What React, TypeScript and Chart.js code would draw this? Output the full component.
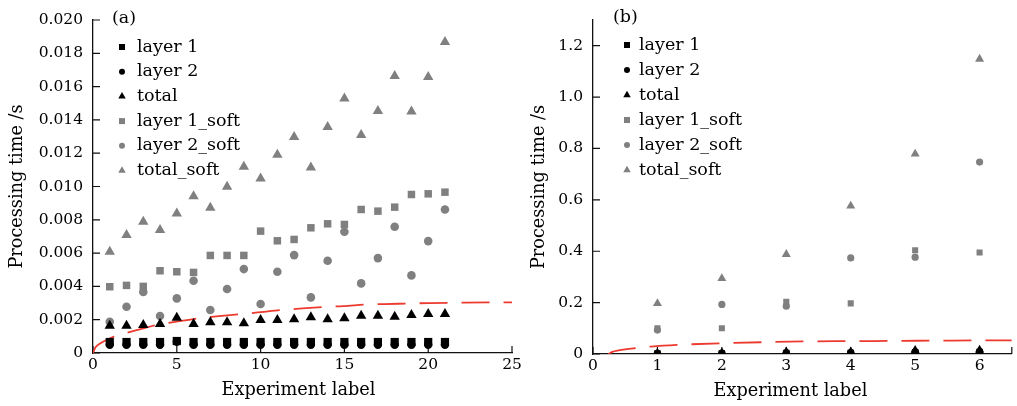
import React, { useEffect, useRef } from 'react';
import { Chart, registerables } from 'chart.js';

Chart.register(...registerables);

const FONT = "'DejaVu Serif', serif";
const BLACK = '#000000';
const GRAY = '#808080';
const RED = '#ec3a2f';

// ---------- Panel (a) ----------
const aExperiments = [1, 2, 3, 4, 5, 6, 7, 8, 9, 10, 11, 12, 13, 14, 15, 16, 17, 18, 19, 20, 21];
const aLayer1 = [0.00066, 0.00066, 0.00066, 0.00066, 0.00072, 0.00066, 0.00066, 0.00066, 0.00066, 0.00066, 0.00066, 0.00066, 0.00066, 0.00066, 0.00066, 0.00066, 0.00066, 0.00066, 0.00066, 0.00066, 0.00066];
const aLayer2 = [0.0005, 0.0005, 0.0005, 0.0005, 0.00068, 0.0005, 0.0005, 0.0005, 0.0005, 0.0005, 0.0005, 0.0005, 0.0005, 0.0005, 0.0005, 0.0005, 0.0005, 0.0005, 0.0005, 0.0005, 0.0005];
const aTotal = [0.00164, 0.00164, 0.00168, 0.00174, 0.00212, 0.00174, 0.00184, 0.00184, 0.00178, 0.00198, 0.00198, 0.00202, 0.00214, 0.00202, 0.00208, 0.00224, 0.00224, 0.00218, 0.00228, 0.00234, 0.00234];
const aLayer1Soft = [0.00398, 0.00406, 0.004, 0.00494, 0.00488, 0.00484, 0.00586, 0.00586, 0.00586, 0.00732, 0.00674, 0.00682, 0.00752, 0.00776, 0.00772, 0.00862, 0.00852, 0.00876, 0.00952, 0.00956, 0.00966];
const aLayer2Soft = [0.00188, 0.00278, 0.00366, 0.00222, 0.00328, 0.00434, 0.00258, 0.00384, 0.00504, 0.00294, 0.00488, 0.00588, 0.00334, 0.00554, 0.00728, 0.00418, 0.0057, 0.00758, 0.00466, 0.00672, 0.00862];
const aTotalSoft = [0.00608, 0.00708, 0.00788, 0.00738, 0.00838, 0.00942, 0.00872, 0.00998, 0.01118, 0.01048, 0.0119, 0.01298, 0.01114, 0.01358, 0.01528, 0.0131, 0.01454, 0.01664, 0.0145, 0.01658, 0.01868];
const aFitX = [0, 0.15, 0.45, 0.8, 1.25, 2.1, 3, 3.9, 4.6, 5.5, 6.3, 7.2, 8.8, 9.7, 11.4, 12.3, 14, 14.9, 16.5, 17.4, 19.1, 20, 21.6, 24.2, 25];
const aFitY = [0, 0.00034, 0.00059, 0.00078, 0.00098, 0.00124, 0.00148, 0.0017, 0.00182, 0.00196, 0.00208, 0.00218, 0.00234, 0.00242, 0.0026, 0.00266, 0.00278, 0.00282, 0.00292, 0.00294, 0.00298, 0.003, 0.00302, 0.00304, 0.00304];
const aXTicks = { min: 0, max: 25, step: 5 };
const aYTicks = { min: 0, max: 0.02, step: 0.002 };

// ---------- Panel (b) ----------
const bExperiments = [1, 2, 3, 4, 5, 6];
const bLayer1 = [0.002, 0.002, 0.004, 0.004, 0.007, 0.008];
const bLayer2 = [0.002, 0.003, 0.004, 0.005, 0.008, 0.008];
const bTotal = [0.004, 0.005, 0.009, 0.009, 0.015, 0.016];
const bLayer1Soft = [0.1, 0.1, 0.203, 0.197, 0.404, 0.395];
const bLayer2Soft = [0.093, 0.193, 0.186, 0.374, 0.377, 0.747];
const bTotalSoft = [0.197, 0.294, 0.388, 0.576, 0.779, 1.148];
const bFitX = [0.24, 0.3, 0.4, 0.5, 0.63, 0.9, 1.35, 2, 2.67, 3.34, 4, 4.7, 5.35, 6, 6.5];
const bFitY = [0, 0.008, 0.014, 0.018, 0.022, 0.029, 0.036, 0.042, 0.046, 0.049, 0.05, 0.051, 0.052, 0.053, 0.053];
const bXTicks = { min: 0, max: 6.5, step: 1 };
const bYTicks = { min: 0, max: 1.3, step: 0.2 };

const seriesNames = ['layer 1', 'layer 2', 'total', 'layer 1_soft', 'layer 2_soft', 'total_soft'];
const seriesStyles = ['rect', 'circle', 'triangle', 'rect', 'circle', 'triangle'];
const seriesColors = [BLACK, BLACK, BLACK, GRAY, GRAY, GRAY];

const W = 1017;
const H = 406;
const TITLE_SIZE = 17.7;

function drawMarker(ctx: CanvasRenderingContext2D, style: string, x: number, y: number, size: number, color: string) {
  ctx.fillStyle = color;
  ctx.beginPath();
  if (style === 'rect') {
    ctx.rect(x - size / 2, y - size / 2, size, size);
  } else if (style === 'circle') {
    ctx.arc(x, y, size / 2, 0, Math.PI * 2);
  } else {
    const h = (size * Math.sqrt(3)) / 2;
    ctx.moveTo(x, y - (h * 2) / 3);
    ctx.lineTo(x + size / 2, y + h / 3);
    ctx.lineTo(x - size / 2, y + h / 3);
    ctx.closePath();
  }
  ctx.fill();
}

type Panel = {
  tag: string;
  xs: number[];
  series: number[][];
  fitX: number[];
  fitY: number[];
  xTicks: { min: number; max: number; step: number };
  yTicks: { min: number; max: number; step: number };
  yFmt: (v: number) => string;
  pad: { left: number; top: number; right: number };
  yWidth: number;
  xHeight: number;
  radii: number[];
  legend: { markerDx: number; textDx: number; firstDy: number; rowGap: number; tagDx: number; tagY: number; sizes: number[] };
  xTitleDx: number;
  xTitleY: number;
  yIncludeBounds: boolean;
  xEndTick: boolean;
};

const panelA: Panel = {
  tag: '(a)',
  xs: aExperiments,
  series: [aLayer1, aLayer2, aTotal, aLayer1Soft, aLayer2Soft, aTotalSoft],
  fitX: aFitX,
  fitY: aFitY,
  xTicks: aXTicks,
  yTicks: aYTicks,
  yFmt: (v) => (v === 0 ? '0' : v.toFixed(3)),
  pad: { left: 0, top: 20, right: W - 512 },
  yWidth: 93,
  xHeight: 53,
  radii: [5.8, 4.2, 6, 5.3, 4.3, 6],
  legend: { markerDx: 29, textDx: 44, firstDy: 27, rowGap: 24.7, tagDx: 19, tagY: 18, sizes: [6, 6, 7.5, 6, 6, 7.5] },
  xTitleDx: -4,
  xTitleY: 390,
  yIncludeBounds: true,
  xEndTick: false,
};

const panelB: Panel = {
  tag: '(b)',
  xs: bExperiments,
  series: [bLayer1, bLayer2, bTotal, bLayer1Soft, bLayer2Soft, bTotalSoft],
  fitX: bFitX,
  fitY: bFitY,
  xTicks: bXTicks,
  yTicks: bYTicks,
  yFmt: (v) => (Math.abs(v) < 1e-9 ? '0' : v.toFixed(1)),
  pad: { left: 522, top: 20, right: W - 1012 },
  yWidth: 71,
  xHeight: 52,
  radii: [4.5, 3.8, 5.2, 4.3, 3.6, 5.2],
  legend: { markerDx: 34, textDx: 46, firstDy: 25, rowGap: 25, tagDx: 20, tagY: 17, sizes: [6, 6, 7.5, 6, 6, 7.5] },
  xTitleDx: -12,
  xTitleY: 391,
  yIncludeBounds: false,
  xEndTick: true,
};

function buildChart(canvas: HTMLCanvasElement, p: Panel) {
  const datasets: any[] = p.series.map((ys, si) => ({
    label: seriesNames[si],
    data: p.xs.map((x, i) => ({ x, y: ys[i] })),
    pointStyle: seriesStyles[si],
    pointRadius: p.radii[si],
    pointHoverRadius: p.radii[si],
    backgroundColor: seriesColors[si],
    borderColor: seriesColors[si],
    pointBorderWidth: 0,
    borderWidth: 0,
    showLine: false,
  }));
  datasets.push({
    label: '',
    data: p.fitX.map((x, i) => ({ x, y: p.fitY[i] })),
    showLine: true,
    pointRadius: 0,
    pointHoverRadius: 0,
    borderColor: RED,
    backgroundColor: RED,
    borderWidth: 1.8,
    borderDash: [28, 14],
    cubicInterpolationMode: 'monotone',
    fill: false,
  });

  const tickPlugin = {
    id: 'inwardTicks',
    beforeDatasetsDraw(chart: any) {
      const { ctx, chartArea, scales } = chart;
      ctx.save();
      ctx.strokeStyle = '#111';
      ctx.lineWidth = 1.2;
      ctx.beginPath();
      const xVals = scales.x.ticks.map((t: any) => t.value);
      if (p.xEndTick) xVals.push(scales.x.max);
      xVals.forEach((v: number) => {
        const px = scales.x.getPixelForValue(v);
        ctx.moveTo(px, chartArea.bottom);
        ctx.lineTo(px, chartArea.bottom - 7);
      });
      scales.y.ticks.forEach((t: any) => {
        const py = scales.y.getPixelForValue(t.value);
        ctx.moveTo(chartArea.left, py);
        ctx.lineTo(chartArea.left + 7, py);
      });
      ctx.stroke();
      ctx.restore();
    },
  };

  const legendPlugin = {
    id: 'insideLegend',
    afterDatasetsDraw(chart: any) {
      const { ctx, chartArea } = chart;
      const lg = p.legend;
      ctx.save();
      ctx.textBaseline = 'middle';
      ctx.textAlign = 'left';
      ctx.fillStyle = '#000';
      ctx.font = `17.5px ${FONT}`;
      ctx.fillText(p.tag, chartArea.left + lg.tagDx, lg.tagY);
      let row = 0;
      chart.data.datasets.forEach((ds: any, i: number) => {
        if (!ds.label) return;
        const y = chartArea.top + lg.firstDy + row * lg.rowGap;
        drawMarker(ctx, ds.pointStyle, chartArea.left + lg.markerDx, y, lg.sizes[i], ds.backgroundColor);
        ctx.fillStyle = '#000';
        ctx.fillText(ds.label, chartArea.left + lg.textDx, y);
        row++;
      });
      ctx.font = `${TITLE_SIZE}px ${FONT}`;
      ctx.textAlign = 'center';
      ctx.fillText('Experiment label', (chartArea.left + chartArea.right) / 2 + p.xTitleDx, p.xTitleY);
      ctx.restore();
    },
  };

  return new Chart(canvas, {
    type: 'scatter',
    data: { datasets },
    options: {
      responsive: false,
      animation: false,
      events: [],
      layout: { padding: { left: p.pad.left, top: p.pad.top, right: p.pad.right, bottom: 0 } },
      plugins: { legend: { display: false }, tooltip: { enabled: false } },
      scales: {
        x: {
          type: 'linear',
          min: p.xTicks.min,
          max: p.xTicks.max,
          grid: { display: false, drawTicks: false },
          border: { display: true, color: '#111', width: 1.3 },
          ticks: {
            stepSize: p.xTicks.step,
            includeBounds: false,
            color: '#000',
            padding: 3,
            font: { family: FONT, size: 15.5 },
            maxRotation: 0,
            autoSkip: false,
            callback: (v: any) => String(Number(v)),
          },
          afterFit: (s: any) => {
            s.height = p.xHeight;
          },
        },
        y: {
          type: 'linear',
          min: p.yTicks.min,
          max: p.yTicks.max,
          grid: { display: false, drawTicks: false },
          border: { display: true, color: '#111', width: 1.3 },
          ticks: {
            stepSize: p.yTicks.step,
            includeBounds: p.yIncludeBounds,
            color: '#000',
            padding: 10,
            font: { family: FONT, size: 15.5 },
            autoSkip: false,
            callback: (v: any) => p.yFmt(Number(v)),
          },
          title: {
            display: true,
            text: 'Processing time /s',
            color: '#000',
            font: { family: FONT, size: TITLE_SIZE },
            padding: { top: 7, bottom: 0 },
          },
          afterFit: (s: any) => {
            s.width = p.yWidth;
          },
        },
      },
    } as any,
    plugins: [tickPlugin, legendPlugin],
  });
}

export default function App() {
  const refA = useRef<HTMLCanvasElement>(null);
  const refB = useRef<HTMLCanvasElement>(null);

  useEffect(() => {
    document.body.style.margin = '0';
    const ca = buildChart(refA.current as HTMLCanvasElement, panelA);
    const cb = buildChart(refB.current as HTMLCanvasElement, panelB);
    return () => {
      ca.destroy();
      cb.destroy();
    };
  }, []);

  const canvasStyle: React.CSSProperties = { position: 'absolute', left: 0, top: 0, width: W, height: H };
  return (
    <div style={{ position: 'relative', width: W, height: H, background: '#fff' }}>
      <canvas ref={refA} width={W} height={H} style={canvasStyle} />
      <canvas ref={refB} width={W} height={H} style={canvasStyle} />
    </div>
  );
}
